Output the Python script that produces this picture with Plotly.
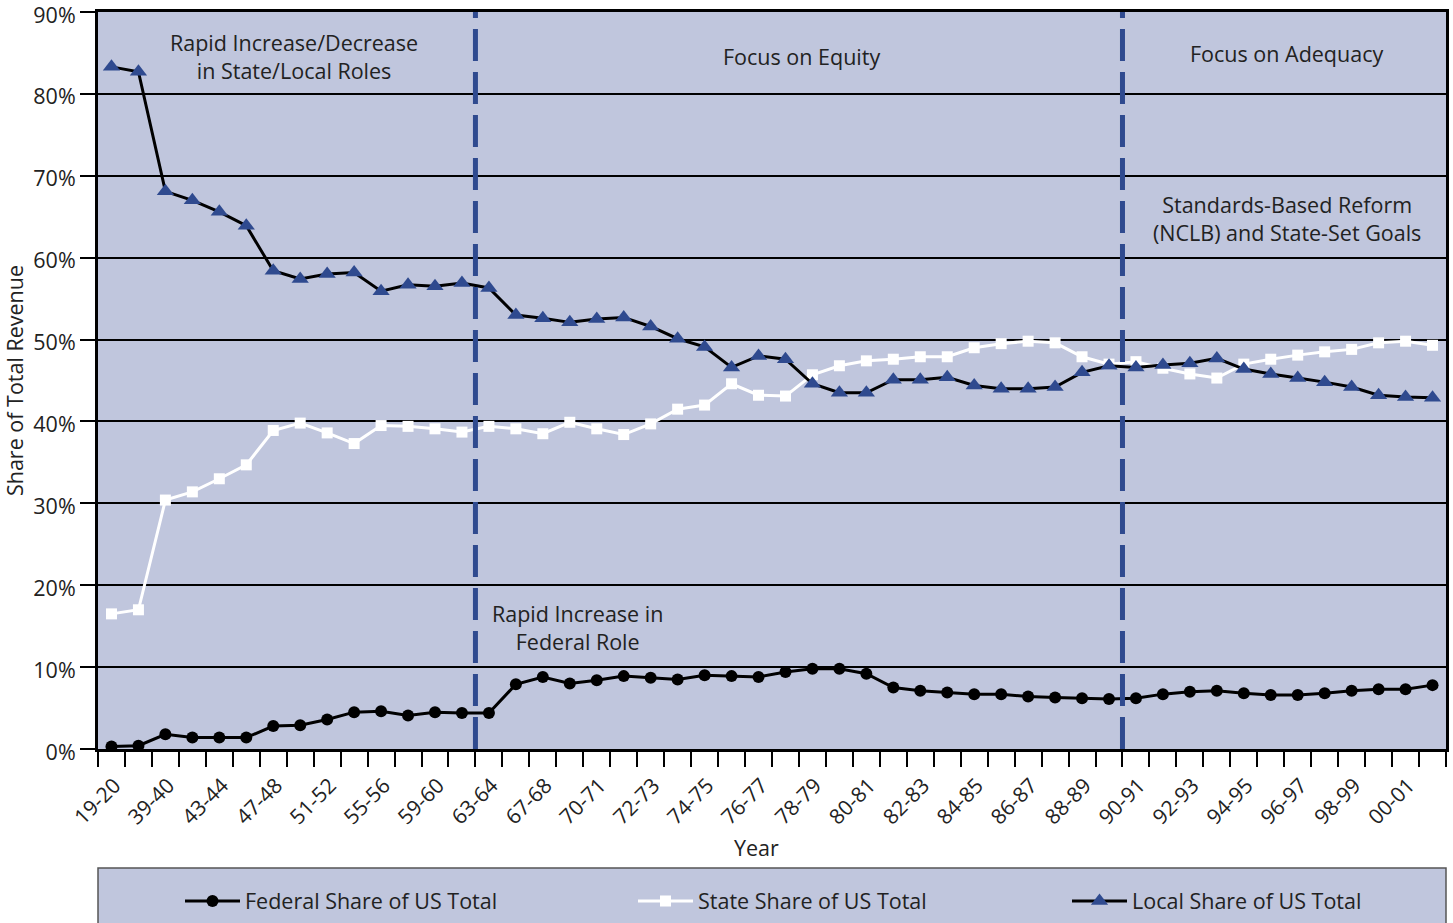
import plotly.graph_objects as go

years = ["19-20", "29-30", "39-40", "41-42", "43-44", "45-46", "47-48", "49-50", "51-52", "53-54",
         "55-56", "57-58", "59-60", "61-62", "63-64", "65-66", "67-68", "69-70", "70-71", "71-72",
         "72-73", "73-74", "74-75", "75-76", "76-77", "77-78", "78-79", "79-80", "80-81", "81-82",
         "82-83", "83-84", "84-85", "85-86", "86-87", "87-88", "88-89", "89-90", "90-91", "91-92",
         "92-93", "93-94", "94-95", "95-96", "96-97", "97-98", "98-99", "99-00", "00-01", "01-02"]

federal = [0.3, 0.4, 1.8, 1.4, 1.4, 1.4, 2.8, 2.9, 3.6, 4.5,
           4.6, 4.1, 4.5, 4.4, 4.4, 7.9, 8.8, 8.0, 8.4, 8.9,
           8.7, 8.5, 9.0, 8.9, 8.8, 9.4, 9.8, 9.8, 9.2, 7.5,
           7.1, 6.9, 6.7, 6.7, 6.4, 6.3, 6.2, 6.1, 6.2, 6.7,
           7.0, 7.1, 6.8, 6.6, 6.6, 6.8, 7.1, 7.3, 7.3, 7.8]

state = [16.5, 17.0, 30.4, 31.4, 33.0, 34.7, 38.9, 39.8, 38.6, 37.3,
         39.5, 39.4, 39.1, 38.7, 39.4, 39.1, 38.5, 39.9, 39.1, 38.4,
         39.7, 41.5, 42.0, 44.6, 43.2, 43.1, 45.7, 46.8, 47.4, 47.6,
         47.9, 47.9, 49.0, 49.5, 49.8, 49.6, 47.9, 47.0, 47.3, 46.5,
         45.8, 45.3, 47.0, 47.6, 48.1, 48.5, 48.8, 49.6, 49.8, 49.3]

local = [83.3, 82.7, 68.1, 67.0, 65.6, 63.9, 58.4, 57.4, 58.0, 58.2,
         55.9, 56.7, 56.5, 56.9, 56.3, 53.0, 52.6, 52.1, 52.5, 52.7,
         51.6, 50.1, 49.1, 46.6, 48.0, 47.6, 44.6, 43.5, 43.5, 45.1,
         45.1, 45.4, 44.4, 44.0, 44.0, 44.2, 46.0, 46.8, 46.6, 46.9,
         47.1, 47.7, 46.4, 45.8, 45.3, 44.8, 44.2, 43.2, 43.0, 42.9]

era_starts = ["63-64", "90-91"]

y_ticks = [0, 10, 20, 30, 40, 50, 60, 70, 80, 90]

BG = "#C0C6DD"
BLUE = "#2F4A8F"
FONT = "Open Sans"
TXT = "#222222"
FS = 21.5

W, H = 1453, 923
ML, MR, MT, MB = 98, 7, 12, 174
PW, PH = W - ML - MR, H - MT - MB

xs = list(range(len(years)))

fig = go.Figure()
fig.add_trace(go.Scatter(x=xs, y=federal, name="Federal Share of US Total", mode="lines+markers",
                         line=dict(color="black", width=3), legend="legend",
                         marker=dict(symbol="circle", size=12, color="black")))
fig.add_trace(go.Scatter(x=xs, y=state, name="State Share of US Total", mode="lines+markers",
                         line=dict(color="white", width=3), legend="legend2",
                         marker=dict(symbol="square", size=11, color="white")))
fig.add_trace(go.Scatter(x=xs, y=local, name="Local Share of US Total", mode="lines+markers",
                         line=dict(color="black", width=3), legend="legend3",
                         marker=dict(symbol="triangle-up", size=15, color=BLUE)))

shapes = []
for yr in era_starts:
    xb = years.index(yr) - 0.5
    shapes.append(dict(type="line", xref="x", yref="paper", x0=xb, x1=xb, y0=0, y1=1,
                       line=dict(color=BLUE, width=5, dash="32px,11px"), layer="above"))
# legend box
shapes.append(dict(type="rect", xref="paper", yref="paper", x0=0, x1=1,
                   y0=-(868 - (H - MB)) / PH, y1=-(H + 20 - (H - MB)) / PH,
                   fillcolor=BG, line=dict(color="#555555", width=1.5), layer="below"))

ann_font = dict(family=FONT, size=FS, color=TXT)
annotations = [
    dict(x=6.77, y=84.6, xref="x", yref="y", text="Rapid Increase/Decrease<br>in State/Local Roles",
         showarrow=False, font=ann_font),
    dict(x=25.6, y=84.6, xref="x", yref="y", text="Focus on Equity", showarrow=False, font=ann_font),
    dict(x=43.6, y=84.9, xref="x", yref="y", text="Focus on Adequacy", showarrow=False, font=ann_font),
    dict(x=43.6, y=64.8, xref="x", yref="y", text="Standards-Based Reform<br>(NCLB) and State-Set Goals",
         showarrow=False, font=ann_font),
    dict(x=17.3, y=14.8, xref="x", yref="y", text="Rapid Increase in<br>Federal Role",
         showarrow=False, font=ann_font),
    dict(x=(756 - ML) / PW, y=-(847 - (H - MB)) / PH, xref="paper", yref="paper", text="Year",
         showarrow=False, font=ann_font, yanchor="middle", xanchor="center"),
]


def leg(px):
    return dict(orientation="h", xref="container", yref="container", x=px / W, xanchor="left",
                y=1 - 901 / H, yanchor="middle", bgcolor="rgba(0,0,0,0)", itemwidth=55,
                font=dict(family=FONT, size=FS, color=TXT))


fig.update_layout(
    width=W, height=H,
    margin=dict(l=ML, r=MR, t=MT, b=MB, autoexpand=False),
    paper_bgcolor="white",
    plot_bgcolor=BG,
    font=dict(family=FONT, size=FS, color=TXT),
    showlegend=True,
    legend=leg(180),
    legend2=leg(633),
    legend3=leg(1067),
    shapes=shapes,
    annotations=annotations,
    xaxis=dict(range=[-0.5, len(years) - 0.5], tickmode="array", tickvals=xs[::2], ticktext=years[::2],
               tickangle=-45, ticks="outside", ticklen=13, tickcolor="rgba(0,0,0,0)", ticklabelshift=3,
               showgrid=False, zeroline=False, automargin=False, ticklabeloverflow="allow",
               showline=True, linecolor="black", linewidth=3, mirror=True,
               tickfont=dict(family=FONT, size=21, color=TXT),
               minor=dict(ticks="outside", tick0=-0.5, dtick=1, ticklen=15, tickcolor="black",
                          tickwidth=1.5, showgrid=False)),
    yaxis=dict(range=[0, 90.001], tickmode="array", tickvals=y_ticks, ticktext=[f"{v}%" for v in y_ticks],
               ticks="outside", ticklen=15, tickcolor="black", tickwidth=1.5, ticklabeloverflow="allow",
               ticklabelshift=3,
               showgrid=True, gridcolor="black", gridwidth=1.5, zeroline=False, automargin=False,
               showline=True, linecolor="black", linewidth=3, mirror=True,
               tickfont=dict(family=FONT, size=FS, color=TXT),
               title=dict(text="Share of Total Revenue", font=dict(family=FONT, size=FS, color=TXT))),
)

fig.write_html("out.html", config={"displayModeBar": False},
               post_script="document.body.style.margin='0px';")
